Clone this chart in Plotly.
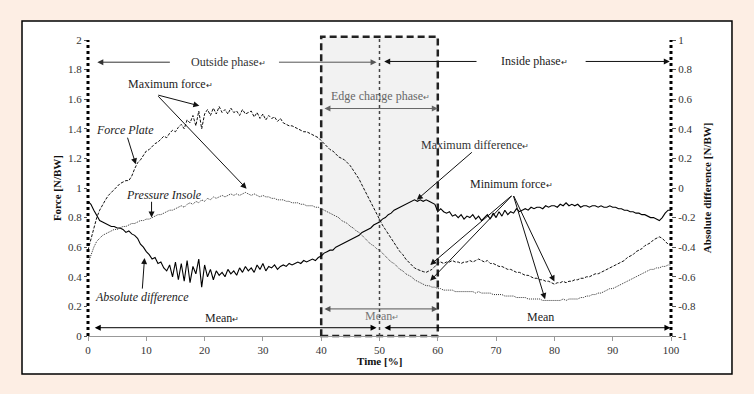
import numpy as np
import plotly.graph_objects as go

# ---------------- data ----------------
TIME = np.arange(0, 100.5, 0.5)  # Time [%]

FORCE_PLATE = [
    0.58, 0.66, 0.74, 0.80, 0.85, 0.89, 0.92, 0.95, 0.97, 0.99, 1.01, 1.03, 1.04, 1.05, 1.05, 1.08, 1.13, 1.17, 1.19, 1.22,
    1.25, 1.26, 1.28, 1.30, 1.31, 1.33, 1.35, 1.34, 1.37, 1.39, 1.38, 1.41, 1.43, 1.40, 1.46, 1.44, 1.49, 1.42, 1.52, 1.40,
    1.50, 1.53, 1.49, 1.54, 1.50, 1.55, 1.51, 1.53, 1.50, 1.54, 1.51, 1.52, 1.49, 1.53, 1.50, 1.51, 1.52, 1.48, 1.51, 1.47,
    1.50, 1.46, 1.49, 1.47, 1.48, 1.45, 1.47, 1.44, 1.43, 1.42, 1.42, 1.41, 1.40, 1.39, 1.38, 1.38, 1.37, 1.36, 1.35, 1.34,
    1.32, 1.30, 1.28, 1.26, 1.25, 1.23, 1.21, 1.20, 1.19, 1.17, 1.15, 1.12, 1.09, 1.06, 1.02, 0.98, 0.94, 0.90, 0.86, 0.82,
    0.78, 0.75, 0.72, 0.69, 0.66, 0.63, 0.60, 0.57, 0.55, 0.52, 0.50, 0.48, 0.46, 0.45, 0.44, 0.435, 0.43, 0.44, 0.45, 0.47,
    0.49, 0.50, 0.49, 0.50, 0.50, 0.51, 0.50, 0.50, 0.49, 0.50, 0.50, 0.51, 0.50, 0.51, 0.52, 0.51, 0.50, 0.51, 0.49, 0.49,
    0.48, 0.47, 0.47, 0.46, 0.45, 0.45, 0.44, 0.43, 0.43, 0.42, 0.41, 0.41, 0.40, 0.39, 0.39, 0.38, 0.38, 0.37, 0.37, 0.36,
    0.35, 0.36, 0.36, 0.37, 0.36, 0.37, 0.37, 0.38, 0.38, 0.39, 0.39, 0.40, 0.40, 0.41, 0.42, 0.42, 0.43, 0.44, 0.45, 0.46,
    0.47, 0.48, 0.49, 0.50, 0.51, 0.53, 0.54, 0.55, 0.57, 0.58, 0.59, 0.61, 0.62, 0.63, 0.65, 0.66, 0.67, 0.66, 0.64, 0.62,
    0.62,
]

PRESSURE_INSOLE = [
    0.49, 0.55, 0.60, 0.64, 0.66, 0.68, 0.69, 0.70, 0.71, 0.72, 0.72, 0.73, 0.74, 0.74, 0.75, 0.76, 0.76, 0.77, 0.78, 0.78,
    0.79, 0.79, 0.80, 0.81, 0.82, 0.82, 0.83, 0.84, 0.85, 0.85, 0.86, 0.87, 0.88, 0.87, 0.89, 0.90, 0.89, 0.91, 0.90, 0.92,
    0.91, 0.93, 0.92, 0.94, 0.93, 0.94, 0.95, 0.94, 0.95, 0.96, 0.95, 0.96, 0.95, 0.96, 0.97, 0.96, 0.95, 0.96, 0.95, 0.94,
    0.95, 0.94, 0.94, 0.93, 0.93, 0.92, 0.92, 0.92, 0.91, 0.91, 0.90, 0.90, 0.90, 0.89, 0.89, 0.88, 0.88, 0.88, 0.87, 0.87,
    0.86, 0.85, 0.84, 0.83, 0.82, 0.81, 0.80, 0.78, 0.77, 0.76, 0.74, 0.73, 0.71, 0.70, 0.68, 0.66, 0.64, 0.62, 0.61, 0.59,
    0.58, 0.56, 0.54, 0.52, 0.50, 0.49, 0.47, 0.45, 0.44, 0.42, 0.41, 0.40, 0.38, 0.37, 0.36, 0.35, 0.34, 0.34, 0.33, 0.33,
    0.32, 0.32, 0.31, 0.31, 0.31, 0.31, 0.30, 0.30, 0.30, 0.30, 0.30, 0.30, 0.30, 0.29, 0.30, 0.29, 0.29, 0.29, 0.29, 0.28,
    0.28, 0.28, 0.28, 0.27, 0.27, 0.27, 0.27, 0.26, 0.26, 0.26, 0.26, 0.25, 0.25, 0.25, 0.25, 0.25, 0.24, 0.24, 0.24, 0.24,
    0.24, 0.24, 0.24, 0.25, 0.24, 0.25, 0.25, 0.25, 0.25, 0.26, 0.26, 0.27, 0.27, 0.28, 0.28, 0.29, 0.29, 0.30, 0.31, 0.32,
    0.32, 0.33, 0.34, 0.35, 0.36, 0.37, 0.38, 0.39, 0.40, 0.41, 0.42, 0.43, 0.44, 0.45, 0.45, 0.46, 0.46, 0.47, 0.47, 0.48,
    0.48,
]

ABSOLUTE_DIFFERENCE = [  # right axis [N/BW]
    -0.09, -0.11, -0.15, -0.19, -0.22, -0.23, -0.24, -0.25, -0.26, -0.26, -0.27, -0.27, -0.28, -0.30, -0.29, -0.31, -0.32, -0.34, -0.38, -0.40,
    -0.43, -0.45, -0.48, -0.47, -0.51, -0.50, -0.54, -0.56, -0.52, -0.60, -0.50, -0.62, -0.51, -0.63, -0.49, -0.64, -0.53, -0.58, -0.48, -0.67,
    -0.52, -0.60, -0.55, -0.62, -0.56, -0.59, -0.57, -0.60, -0.55, -0.58, -0.56, -0.59, -0.54, -0.57, -0.53, -0.56, -0.54, -0.57, -0.52, -0.55,
    -0.51, -0.56, -0.53, -0.54, -0.52, -0.55, -0.53, -0.52, -0.53, -0.51, -0.52, -0.51, -0.50, -0.51, -0.49, -0.50, -0.49, -0.48, -0.49, -0.47,
    -0.46, -0.44, -0.43, -0.42, -0.42, -0.40, -0.39, -0.38, -0.37, -0.36, -0.35, -0.34, -0.33, -0.32, -0.30, -0.29, -0.28, -0.27, -0.25, -0.24,
    -0.23, -0.21, -0.20, -0.18, -0.17, -0.15, -0.14, -0.13, -0.12, -0.11, -0.10, -0.09, -0.08, -0.09, -0.08, -0.09, -0.08, -0.09, -0.10, -0.11,
    -0.16, -0.14, -0.16, -0.17, -0.16, -0.19, -0.18, -0.20, -0.18, -0.21, -0.19, -0.20, -0.18, -0.21, -0.19, -0.22, -0.20, -0.18, -0.21, -0.17,
    -0.20, -0.16, -0.19, -0.15, -0.18, -0.16, -0.17, -0.14, -0.16, -0.15, -0.14, -0.15, -0.13, -0.14, -0.13, -0.13, -0.14, -0.12, -0.13, -0.12,
    -0.12, -0.13, -0.11, -0.12, -0.10, -0.12, -0.11, -0.12, -0.11, -0.13, -0.12, -0.12, -0.13, -0.12, -0.12, -0.13, -0.12, -0.13, -0.13, -0.12,
    -0.13, -0.13, -0.14, -0.14, -0.15, -0.15, -0.16, -0.16, -0.17, -0.17, -0.18, -0.18, -0.19, -0.20, -0.20, -0.21, -0.22, -0.20, -0.17, -0.15,
    -0.15,
]

X_TICKS = [0, 10, 20, 30, 40, 50, 60, 70, 80, 90, 100]
LEFT_TICKS = [0, 0.2, 0.4, 0.6, 0.8, 1, 1.2, 1.4, 1.6, 1.8, 2]
RIGHT_TICKS = [-1, -0.8, -0.6, -0.4, -0.2, 0, 0.2, 0.4, 0.6, 0.8, 1]

# ---------------- styling ----------------
SERIF = "Liberation Serif"
PEACH = "#fdeee4"
RET = "<span style='font-size:8px'>↵</span>"

fig = go.Figure()

fig.add_trace(go.Scatter(x=TIME, y=FORCE_PLATE, mode="lines", name="Force Plate",
                         line=dict(color="#111", width=1, dash="3px,1.5px"), yaxis="y"))
fig.add_trace(go.Scatter(x=TIME, y=PRESSURE_INSOLE, mode="lines", name="Pressure Insole",
                         line=dict(color="#333", width=1, dash="1px,1px"), yaxis="y"))
fig.add_trace(go.Scatter(x=TIME, y=ABSOLUTE_DIFFERENCE, mode="lines", name="Absolute difference",
                         line=dict(color="#000", width=1.1), yaxis="y2"))

shapes = []
# outer white frame
shapes.append(dict(type="rect", xref="paper", yref="paper", x0=-0.1132, x1=1.1046, y0=-0.128, y1=1.064,
                   fillcolor="white", line=dict(color="black", width=1.5), layer="below"))
# edge change phase box
shapes.append(dict(type="rect", xref="paper", yref="paper", x0=0.4, x1=0.6, y0=0.0, y1=1.011,
                   fillcolor="#f2f2f2", line=dict(color="#222", width=2.5, dash="7px,4px"), layer="below"))
# middle dotted line
shapes.append(dict(type="line", xref="paper", yref="paper", x0=0.5, x1=0.5, y0=0.0, y1=1.011,
                   line=dict(color="#444", width=1.5, dash="dot")))
# thick dotted axes
for xv in (0.0, 1.0):
    shapes.append(dict(type="line", xref="paper", yref="paper", x0=xv, x1=xv, y0=0.0, y1=1.0,
                       line=dict(color="black", width=3, dash="dot")))

annotations = []


def label(text, x, y, size=12, color="#222", italic=False, bold=False):
    t = text
    if italic:
        t = "<i>" + t + "</i>"
    if bold:
        t = "<b>" + t + "</b>"
    annotations.append(dict(text=t, x=x, y=y, xref="x", yref="y", showarrow=False,
                            font=dict(family=SERIF, size=size, color=color),
                            xanchor="center", yanchor="middle"))


def arrow(x_tail, y_tail, x_head, y_head, color="#111", both=False, width=1, size=1.2):
    d = dict(text="", x=x_head, y=y_head, ax=x_tail, ay=y_tail, xref="x", yref="y",
             axref="x", ayref="y", showarrow=True, arrowhead=2, arrowsize=size,
             arrowwidth=width, arrowcolor=color, standoff=0, startstandoff=0)
    if both:
        d["arrowside"] = "end+start"
        d["startarrowhead"] = 2
        d["startarrowsize"] = size
    annotations.append(d)


# phase arrows
label("Outside phase" + RET, 24.1, 1.85, color="#333")
arrow(14.3, 1.85, 1.6, 1.85, color="#333")
arrow(32.5, 1.85, 49.5, 1.85, color="#555")
label("Inside phase" + RET, 76.5, 1.855, color="#222")
arrow(66.9, 1.855, 50.8, 1.855, color="#111")
arrow(85.1, 1.855, 99.8, 1.855, color="#111")

label("Edge change phase" + RET, 50.1, 1.62, color="#666")
arrow(40.3, 1.537, 60.0, 1.537, color="#666", both=True)

# means
label("Mean" + RET, 22.9, 0.122, color="#222")
label("Mean" + RET, 50.4, 0.136, color="#777")
label("Mean", 77.6, 0.131, color="#222")
arrow(40.3, 0.183, 60.0, 0.183, color="#555", both=True)
arrow(0.9, 0.056, 49.5, 0.056, color="#000", both=True)
arrow(50.6, 0.056, 99.9, 0.056, color="#000", both=True)

# callouts
label("Maximum force" + RET, 14.1, 1.70)
arrow(11.8, 1.63, 19.1, 1.555)
arrow(11.8, 1.63, 27.2, 0.995)

label("Force Plate", 6.3, 1.39, italic=True)
arrow(6.7, 1.35, 8.2, 1.16)

label("Pressure Insole", 13.1, 0.95, italic=True)
arrow(10.9, 0.917, 10.9, 0.80)

label("Absolute difference", 9.3, 0.266, italic=True)
arrow(9.3, 0.31, 9.7, 0.527)

label("Maximum difference" + RET, 66.3, 1.29, color="#333")
arrow(66.1, 1.25, 56.4, 0.92)

label("Minimum force" + RET, 72.6, 1.03)
for hx, hy in [(58.7, 0.48), (58.7, 0.373), (80.0, 0.368), (78.4, 0.249)]:
    arrow(72.9, 0.956, hx, hy)

# axis titles
annotations.append(dict(text="<b>Time [%]</b>", x=0.5, y=-0.084, xref="paper", yref="paper",
                        showarrow=False, font=dict(family=SERIF, size=11, color="#111"),
                        xanchor="center", yanchor="middle"))
annotations.append(dict(text="<b>Force [N/BW]</b>", x=-0.053, y=0.5, xref="paper", yref="paper",
                        showarrow=False, textangle=-90, font=dict(family=SERIF, size=11, color="#111"),
                        xanchor="center", yanchor="middle"))
annotations.append(dict(text="<b>Absolute difference [N/BW]</b>", x=1.062, y=0.5, xref="paper", yref="paper",
                        showarrow=False, textangle=-90, font=dict(family=SERIF, size=11, color="#111"),
                        xanchor="center", yanchor="middle"))

tickfont = dict(family=SERIF, size=11, color="#333")

fig.update_layout(
    width=754, height=394,
    margin=dict(l=88, r=83, t=40, b=58),
    paper_bgcolor=PEACH,
    plot_bgcolor="rgba(0,0,0,0)",
    font=dict(family=SERIF),
    showlegend=False,
    shapes=shapes,
    annotations=annotations,
    xaxis=dict(range=[0, 100], tickvals=X_TICKS, ticktext=[str(v) for v in X_TICKS],
               showgrid=False, zeroline=False, showline=True, linecolor="#999", linewidth=1,
               ticks="outside", ticklen=4, tickcolor="#999", tickfont=tickfont),
    yaxis=dict(range=[0, 2], tickvals=LEFT_TICKS, ticktext=[f"{v:g}" for v in LEFT_TICKS],
               showgrid=False, zeroline=False, showline=False,
               ticks="outside", ticklen=3, tickcolor="#555", tickfont=tickfont),
    yaxis2=dict(range=[-1, 1], overlaying="y", side="right", tickvals=RIGHT_TICKS,
                ticktext=[f"{v:g}" for v in RIGHT_TICKS],
                showgrid=False, zeroline=False, showline=False,
                ticks="outside", ticklen=4, tickcolor="#555", tickfont=tickfont),
)

fig.write_html(
    "out.html",
    config={"displayModeBar": False},
    post_script="document.body.style.margin='0';document.body.style.background='" + PEACH + "';",
)
